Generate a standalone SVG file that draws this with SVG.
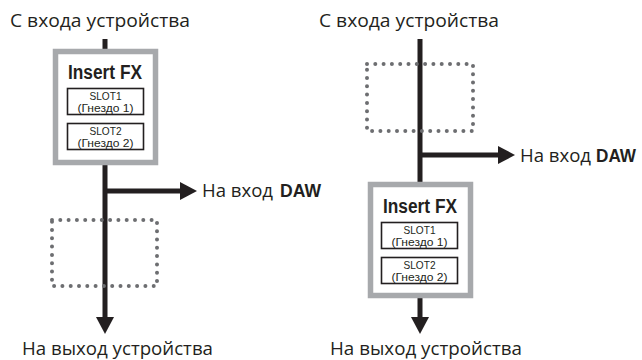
<svg xmlns="http://www.w3.org/2000/svg" width="642" height="360" viewBox="0 0 642 360">
  <style>
    .lbl { font-family: "Open Sans", "Noto Sans", "DejaVu Sans", sans-serif; font-size: 19px; fill: #231f20; }
    .bold { font-family: "Liberation Sans", Arial, sans-serif; font-weight: bold; font-size: 18.5px; fill: #231f20; }
    .fx { font-family: "Liberation Sans", Arial, sans-serif; font-weight: bold; font-size: 20px; fill: #231f20; text-anchor: middle; }
    .slot { font-family: "Liberation Sans", Arial, sans-serif; font-size: 10.5px; fill: #231f20; text-anchor: middle; }
    .wire { stroke: #231f20; stroke-width: 5; fill: none; }
    .outer { fill: #ffffff; stroke: #a7a9ac; stroke-width: 5.5; }
    .slotbox { fill: #ffffff; stroke: #231f20; stroke-width: 1.6; }
    .dots { fill: none; stroke: #6d6e71; stroke-width: 4; stroke-linecap: round; stroke-dasharray: 0 8.3; }
  </style>
  <defs>
    <marker id="ah" markerUnits="userSpaceOnUse" markerWidth="18" markerHeight="18" refX="0" refY="9" orient="auto">
      <path d="M0,0 L17,9 L0,18 Z" fill="#231f20"/>
    </marker>
  </defs>

  <g id="connectors">
    <line class="wire" x1="105" y1="39" x2="105" y2="317" marker-end="url(#ah)"/>
    <line class="wire" x1="105" y1="191" x2="180" y2="191" marker-end="url(#ah)"/>
    <line class="wire" x1="420" y1="39" x2="420" y2="317" marker-end="url(#ah)"/>
    <line class="wire" x1="420" y1="155" x2="498" y2="155" marker-end="url(#ah)"/>
  </g>

  <g id="left-input">
    <text class="lbl" x="10" y="27" textLength="180" lengthAdjust="spacingAndGlyphs">С входа устройства</text>
  </g>
  <g id="left-insertfx">
    <rect class="outer" x="55.5" y="51.5" width="100" height="111"/>
    <text class="fx" x="105" y="79" textLength="74" lengthAdjust="spacingAndGlyphs">Insert FX</text>
    <rect class="slotbox" x="67.5" y="88.5" width="76" height="26"/>
    <text class="slot" x="105.5" y="100" textLength="32" lengthAdjust="spacingAndGlyphs">SLOT1</text>
    <text class="slot" x="105.5" y="112" textLength="56" lengthAdjust="spacingAndGlyphs">(Гнездо 1)</text>
    <rect class="slotbox" x="67.5" y="123.5" width="76" height="26"/>
    <text class="slot" x="105.5" y="135" textLength="32" lengthAdjust="spacingAndGlyphs">SLOT2</text>
    <text class="slot" x="105.5" y="147" textLength="56" lengthAdjust="spacingAndGlyphs">(Гнездо 2)</text>
  </g>
  <g id="left-daw">
    <text class="lbl" x="202" y="197" textLength="71" lengthAdjust="spacingAndGlyphs">На вход</text>
    <text class="bold" x="280" y="197" textLength="41" lengthAdjust="spacingAndGlyphs">DAW</text>
  </g>
  <g id="left-empty">
    <rect class="dots" x="52" y="220" width="105" height="66"/>
  </g>
  <g id="left-output">
    <text class="lbl" x="22" y="355" textLength="191" lengthAdjust="spacingAndGlyphs">На выход устройства</text>
  </g>

  <g id="right-input">
    <text class="lbl" x="319" y="27" textLength="180" lengthAdjust="spacingAndGlyphs">С входа устройства</text>
  </g>
  <g id="right-empty">
    <rect class="dots" x="367" y="64" width="106" height="67"/>
  </g>
  <g id="right-daw">
    <text class="lbl" x="520" y="162" textLength="71" lengthAdjust="spacingAndGlyphs">На вход</text>
    <text class="bold" x="596" y="162" textLength="40" lengthAdjust="spacingAndGlyphs">DAW</text>
  </g>
  <g id="right-insertfx">
    <rect class="outer" x="370.5" y="184.5" width="100" height="111"/>
    <text class="fx" x="420" y="213" textLength="74" lengthAdjust="spacingAndGlyphs">Insert FX</text>
    <rect class="slotbox" x="381.5" y="222.5" width="76" height="26"/>
    <text class="slot" x="419.5" y="234" textLength="32" lengthAdjust="spacingAndGlyphs">SLOT1</text>
    <text class="slot" x="419.5" y="246" textLength="56" lengthAdjust="spacingAndGlyphs">(Гнездо 1)</text>
    <rect class="slotbox" x="381.5" y="257.5" width="76" height="26"/>
    <text class="slot" x="419.5" y="269" textLength="32" lengthAdjust="spacingAndGlyphs">SLOT2</text>
    <text class="slot" x="419.5" y="281" textLength="56" lengthAdjust="spacingAndGlyphs">(Гнездо 2)</text>
  </g>
  <g id="right-output">
    <text class="lbl" x="330" y="355" textLength="192" lengthAdjust="spacingAndGlyphs">На выход устройства</text>
  </g>
</svg>
